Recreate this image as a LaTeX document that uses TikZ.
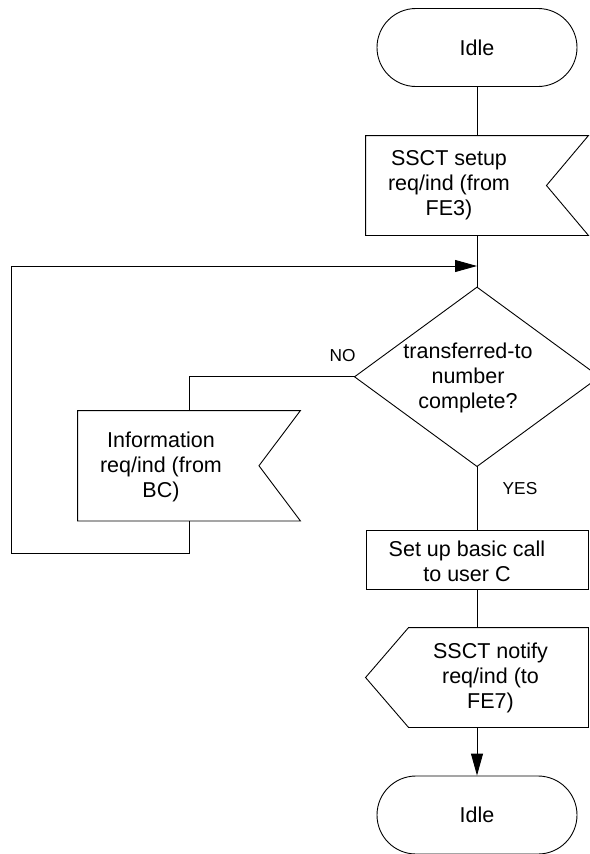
\documentclass[tikz,border=0pt]{standalone}
\usepackage{fontspec}
\setmainfont{Liberation Sans}
\usetikzlibrary{arrows.meta,calc}
\begin{document}
\begin{tikzpicture}[x=1pt,y=-1pt,
  line width=0.9pt,
  txt/.style={align=center,inner sep=0pt,font=\fontsize{21.5}{25}\selectfont},
  small/.style={inner sep=0pt,font=\fontsize{17.3}{20}\selectfont},
  shapebox/.style 2 args={draw=none,minimum width=#1,minimum height=#2,inner sep=0pt},
  term/.style={draw,rounded corners=39pt,minimum width=200pt,minimum height=78pt,inner sep=0pt,font=\fontsize{21.5}{25}\selectfont},
  arr/.style={-{Triangle[length=22pt,width=12pt]}}]
\useasboundingbox (0,0) rectangle (589,854);

% terminals
\node[term] (idle1) at (477,47.5) {Idle};
\node[term] (idle2) at (477,815) {Idle};

% SSCT setup (input, notched right)
\node[shapebox={222pt}{99pt}] (setup) at (477,185.5) {};
\draw (setup.north west) -- (setup.north east) -- ($(setup.east)+(-42,0)$) -- (setup.south east) -- (setup.south west) -- cycle;
\node[txt] (setupT) at (449,185.5) {SSCT setup\\req/ind (from\\FE3)};

% decision
\coordinate (j) at (477,266);
\node[shapebox={244pt}{178.4pt}] (dec) at (477,376.8) {};
\draw (dec.north) -- (dec.east) -- (dec.south) -- (dec.west) -- cycle;
\node[txt] (decT) at (468,378) {transferred-to\\number\\complete?};
\node[small] (no) at (342.6,356) {NO};
\node[small] (yes) at (520,488.5) {YES};

% information (input, notched right)
\node[shapebox={222pt}{109.5pt}] (info) at (189,465.75) {};
\draw (info.north west) -- (info.north east) -- ($(info.east)+(-41.5,0)$) -- (info.south east) -- (info.south west) -- cycle;
\node[txt] (infoT) at (161,467) {Information\\req/ind (from\\BC)};
\coordinate (lb) at (11,553.5);

% process
\node[shapebox={222pt}{59pt},draw] (call) at (477,559.5) {};
\node[txt] (callT) at (467,561) {Set up basic call\\to user C};

% SSCT notify (output, pointed left)
\node[shapebox={222pt}{99pt}] (notify) at (477,677.5) {};
\draw (notify.north east) -- (notify.south east) -- ($(notify.south west)+(43,0)$) -- (notify.west) -- ($(notify.north west)+(43,0)$) -- cycle;
\node[txt] (notifyT) at (490.5,677.5) {SSCT notify\\req/ind (to\\FE7)};

% connectors
\draw (idle1.south) -- (setup.north);
\draw (setup.south) -- (dec.north);
\draw (dec.west) -| (info.north);
\draw[arr] (info.south) |- (lb) |- (j);
\draw (dec.south) -- (call.north);
\draw (call.south) -- (notify.north);
\draw[arr] (notify.south) -- (idle2.north);
\end{tikzpicture}
\end{document}
